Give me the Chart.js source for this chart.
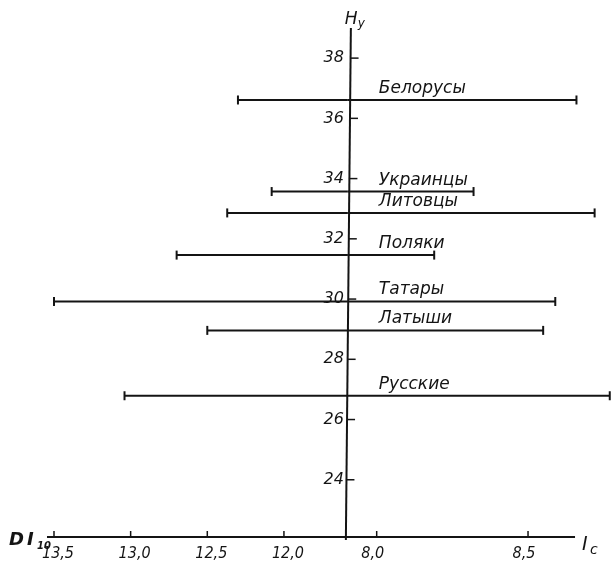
<!DOCTYPE html>
<html>
<head>
<meta charset="utf-8">
<script src="https://cdn.jsdelivr.net/npm/chart.js@4.4.1/dist/chart.umd.min.js"></script>
<style>
  html, body { margin: 0; padding: 0; background: #ffffff; }
  #wrap { width: 611px; height: 569px; }
</style>
</head>
<body>
<div id="wrap"><canvas id="c" width="611" height="569"></canvas></div>
<script>
// ---- data ----
const groups     = ['Белорусы', 'Украинцы', 'Литовцы', 'Поляки', 'Татары', 'Латыши', 'Русские'];
const hyValues   = [36.61, 33.57, 32.86, 31.46, 29.92, 28.96, 26.79];   // H_y
const di10Values = [12.30, 12.08, 12.37, 12.70, 13.50, 12.50, 13.04];   // left end, DI_10
const icValues   = [8.66, 8.32, 8.72, 8.19, 8.59, 8.55, 8.77];          // right end, I_c
const hyTicks    = [24, 26, 28, 30, 32, 34, 36, 38];
const di10Ticks  = [13.5, 13.0, 12.5, 12.0];
const icTicks    = [8.0, 8.5];
const di10AtAxis = 11.583;   // DI_10 value where the vertical axis stands
const icAtAxis   = 7.905;    // I_c value where the vertical axis stands

const INK = '#141414';
const FONT_C = '"DejaVu Sans Condensed", "DejaVu Sans", sans-serif';
const FONT = '"DejaVu Sans", sans-serif';
const fmt = v => v.toFixed(1).replace('.', ',');

const datasets = [];
groups.forEach((g, i) => {
  datasets.push({
    label: g + ' DI',
    xAxisID: 'xL', yAxisID: 'y',
    data: [{ x: di10Values[i], y: hyValues[i] }, { x: di10AtAxis, y: hyValues[i] }],
    borderColor: INK, borderWidth: 2,
    pointStyle: 'line', pointRotation: 90, pointRadius: [4.5, 0],
    pointBorderColor: INK, pointBorderWidth: 2, pointHoverRadius: 0,
    clip: false
  });
  datasets.push({
    label: g + ' Ic',
    xAxisID: 'xR', yAxisID: 'y',
    data: [{ x: icAtAxis, y: hyValues[i] }, { x: icValues[i], y: hyValues[i] }],
    borderColor: INK, borderWidth: 2,
    pointStyle: 'line', pointRotation: 90, pointRadius: [0, 4.5],
    pointBorderColor: INK, pointBorderWidth: 2, pointHoverRadius: 0,
    clip: false
  });
});

const axesPlugin = {
  id: 'axesPlugin',
  beforeDraw(chart) {
    const ctx = chart.ctx;
    ctx.save();
    ctx.fillStyle = '#ffffff';
    ctx.fillRect(0, 0, chart.width, chart.height);
    ctx.restore();
  },
  afterDatasetsDraw(chart) {
    const ctx = chart.ctx;
    const xL = chart.scales.xL, xR = chart.scales.xR, y = chart.scales.y;
    const axisX = xL.getPixelForValue(di10AtAxis);
    const baseY = y.getPixelForValue(y.min);
    const topY = y.getPixelForValue(y.max);
    ctx.save();
    ctx.strokeStyle = INK;
    ctx.fillStyle = INK;
    ctx.lineWidth = 2;
    ctx.lineCap = 'butt';

    // vertical axis (slightly tilted as in the print)
    const axisAt = py => axisX - 2 + 5 * (baseY + 3 - py) / (baseY + 3 - topY);
    ctx.beginPath();
    ctx.moveTo(axisAt(topY), topY);
    ctx.lineTo(axisAt(baseY + 3), baseY + 3);
    ctx.stroke();

    // horizontal axis
    const leftEnd = xL.getPixelForValue(di10Ticks[0]) - 7;
    const rightEnd = xR.getPixelForValue(icTicks[icTicks.length - 1]) + 47;
    ctx.beginPath();
    ctx.moveTo(leftEnd, baseY);
    ctx.lineTo(rightEnd, baseY);
    ctx.stroke();

    // x ticks
    ctx.lineWidth = 1.5;
    ctx.font = 'italic 16px ' + FONT_C;
    ctx.textAlign = 'center';
    ctx.textBaseline = 'middle';
    di10Ticks.forEach(v => {
      const px = xL.getPixelForValue(v);
      ctx.beginPath(); ctx.moveTo(px, baseY); ctx.lineTo(px, baseY - 6); ctx.stroke();
      ctx.fillText(fmt(v), px + 4, baseY + 17);
    });
    icTicks.forEach(v => {
      const px = xR.getPixelForValue(v);
      ctx.beginPath(); ctx.moveTo(px, baseY); ctx.lineTo(px, baseY - 6); ctx.stroke();
      ctx.fillText(fmt(v), px - 4, baseY + 17);
    });

    // y ticks
    ctx.font = 'italic 16px ' + FONT;
    ctx.textAlign = 'right';
    hyTicks.forEach(v => {
      const py = y.getPixelForValue(v);
      const ax = axisAt(py);
      ctx.beginPath(); ctx.moveTo(ax, py); ctx.lineTo(ax + 8, py); ctx.stroke();
      ctx.fillText(String(v), axisX - 4, py);
    });

    // axis titles
    ctx.textAlign = 'left';
    ctx.font = 'italic 17px ' + FONT;
    ctx.fillText('H', axisX - 3, 20);
    ctx.font = 'italic 12px ' + FONT;
    ctx.fillText('y', axisX + 10, 24);

    ctx.font = 'italic bold 18px ' + FONT;
    ctx.fillText('D', 9, baseY + 3);
    ctx.fillText('I', 27, baseY + 3);
    ctx.font = 'italic bold 10px ' + FONT;
    ctx.fillText('10', 37, baseY + 9);

    ctx.font = 'italic 19px ' + FONT;
    ctx.fillText('I', rightEnd + 7, baseY + 8);
    ctx.font = 'italic 14px ' + FONT;
    ctx.fillText('c', rightEnd + 15, baseY + 13);

    // group labels
    ctx.font = 'italic 17px ' + FONT;
    ctx.textBaseline = 'alphabetic';
    groups.forEach((g, i) => {
      const py = y.getPixelForValue(hyValues[i]);
      ctx.fillText(g, axisX + 31, py - 7);
    });
    ctx.restore();
  }
};

new Chart(document.getElementById('c'), {
  type: 'line',
  data: { datasets },
  options: {
    responsive: false,
    animation: false,
    devicePixelRatio: 1,
    layout: { autoPadding: false, padding: { left: 10, right: 1, top: 28, bottom: 32 } },
    plugins: { legend: { display: false }, tooltip: { enabled: false } },
    events: [],
    scales: {
      xL: { type: 'linear', reverse: true, min: 9.873, max: 13.787, display: false },
      xR: { type: 'linear', min: 6.7886, max: 8.7708, display: false },
      y:  { type: 'linear', min: 22.1, max: 39.0, display: false }
    }
  },
  plugins: [axesPlugin]
});
</script>
</body>
</html>
